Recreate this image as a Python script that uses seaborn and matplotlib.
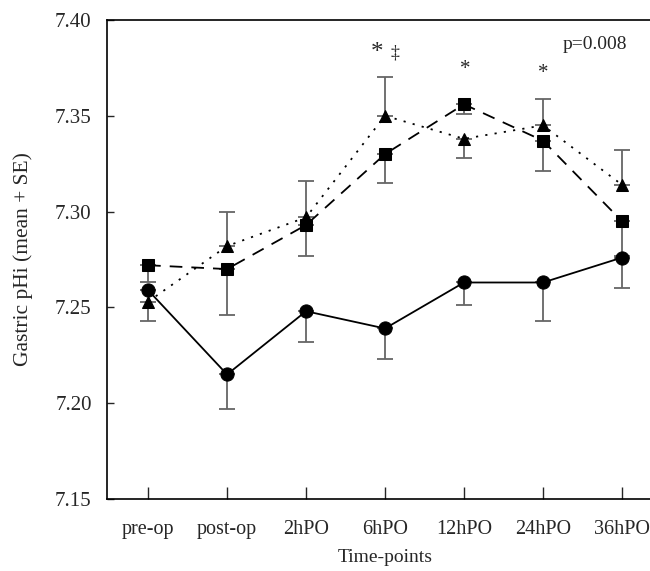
import numpy as np
import pandas as pd
import matplotlib
matplotlib.use("Agg")
import matplotlib.pyplot as plt
import seaborn as sns

timepoints = ["pre-op", "post-op", "2hPO", "6hPO", "12hPO", "24hPO", "36hPO"]

circle_mean = [7.259, 7.215, 7.248, 7.239, 7.263, 7.263, 7.276]
circle_err_lo = [0.000, 0.018, 0.016, 0.016, 0.012, 0.020, 0.016]
circle_err_hi = [0.000, 0.000, 0.000, 0.000, 0.000, 0.000, 0.000]

square_mean = [7.272, 7.270, 7.293, 7.330, 7.356, 7.337, 7.295]
square_err_lo = [0.009, 0.024, 0.016, 0.015, 0.005, 0.016, 0.018]
square_err_hi = [0.000, 0.000, 0.000, 0.000, 0.000, 0.000, 0.000]

triangle_mean = [7.253, 7.282, 7.297, 7.350, 7.338, 7.345, 7.314]
triangle_err_lo = [0.010, 0.000, 0.000, 0.000, 0.010, 0.000, 0.000]
triangle_err_hi = [0.000, 0.018, 0.019, 0.020, 0.000, 0.014, 0.018]

yticks = [7.15, 7.20, 7.25, 7.30, 7.35, 7.40]

sns.set_style("ticks")
plt.rcParams["font.family"] = ["Liberation Serif", "DejaVu Serif"]

fig = plt.figure(figsize=(6.5, 5.71), dpi=100)
ax = fig.add_axes([107/650, 72/571, 543/650, 479/571])

x = np.arange(len(timepoints))
series = [
    ("circle", circle_mean, circle_err_lo, circle_err_hi, "o", (0, ()), 9.5),
    ("square", square_mean, square_err_lo, square_err_hi, "s", (0, (7, 5)), 8.5),
    ("triangle", triangle_mean, triangle_err_lo, triangle_err_hi, "^", (0, (1.2, 4)), 9),
]

for name, mean, lo, hi, mk, ls, ms in series:
    ax.errorbar(x, mean, yerr=[lo, hi], fmt="none", ecolor="0.4",
                elinewidth=1.3, capsize=5.5, capthick=1.3, zorder=2)

for name, mean, lo, hi, mk, ls, ms in series:
    df = pd.DataFrame({"x": x, "y": mean})
    sns.lineplot(data=df, x="x", y="y", ax=ax, color="black", linewidth=1.3,
                 marker=mk, markersize=ms, markeredgecolor="black",
                 markerfacecolor="black", zorder=3)
    ax.lines[-1].set_linestyle(ls)

ax.set_xlim(-0.52, 6.355)
ax.set_ylim(7.15, 7.40)
ax.set_xticks(x)
ax.set_xticklabels(timepoints, fontsize=14.5)
ax.set_yticks(yticks)
ax.set_yticklabels([f"{v:.2f}" for v in yticks], fontsize=15)
ax.tick_params(axis="x", direction="in", length=9, width=1, pad=15)
ax.tick_params(axis="y", direction="in", length=5, width=1, pad=11)

for side in ["left", "bottom", "top"]:
    ax.spines[side].set_visible(True)
    ax.spines[side].set_linewidth(1.2)
    ax.spines[side].set_color("black")
ax.spines["right"].set_visible(False)

ax.set_xlabel("Time-points", fontsize=14)
ax.set_ylabel("Gastric pHi (mean + SE)", fontsize=15.5)
ax.xaxis.set_label_coords((385 - 107) / 543, -0.105)
ax.yaxis.set_label_coords(-0.136, 0.5)

ax.text(2.9, 7.383, "*", fontsize=18, ha="center", va="center")
ax.text(3.13, 7.383, "\u2021", fontsize=13, ha="center", va="center")
ax.text(4.01, 7.374, "*", fontsize=15, ha="center", va="center")
ax.text(5.0, 7.372, "*", fontsize=15, ha="center", va="center")
ax.text(5.66, 7.387, "p=0.008", fontsize=14, ha="center", va="center")

fig.savefig("out.png", dpi=100)
